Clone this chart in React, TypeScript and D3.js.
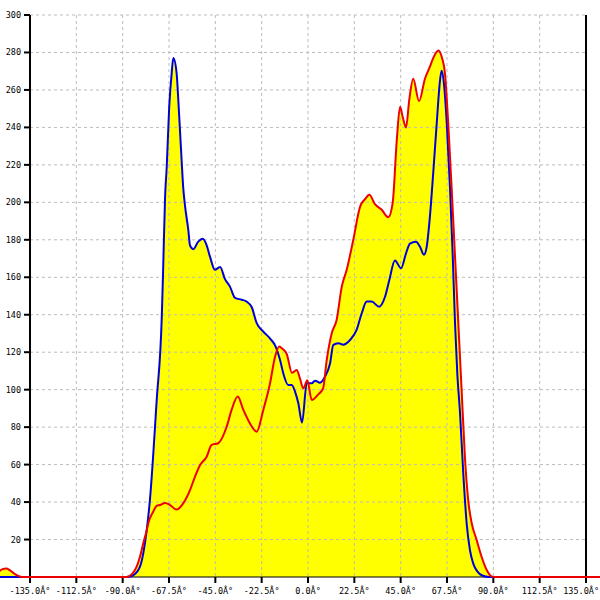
import React from 'react';
import * as d3 from "d3";

// angle (deg) / count pairs, one array each
const blueAngles = [-150, -89.8, -86.4, -85, -81.6, -79.2, -76.7, -73.5, -71.0, -70.3,
	-69.4, -68.6, -67.4, -66.2, -65.4, -63.8, -63.0, -62.2, -61.3, -60.6,
	-59.7, -58.1, -57.3, -55.7, -53.3, -51.1, -49.2, -47.6, -45.2, -42.7,
	-40.3, -37.9, -35.4, -32.2, -29.8, -27.3, -24.9, -21.7, -18.5, -15.7,
	-13.6, -12.0, -9.6, -7.9, -6.3, -4.7, -2.9, -0.6, 1.8, 3.4,
	5.8, 8.3, 10.7, 12.3, 14.7, 17.1, 20.4, 23.6, 26.1, 28.5,
	30.9, 34.5, 37.4, 39.5, 42.2, 45.2, 47.6, 49.5, 52.4, 54.4,
	56.3, 57.6, 59.2, 60.8, 62.5, 64.1, 64.9, 66.0, 67.4, 69.0,
	70.3, 71.4, 72.5, 73.8, 75.4, 77.1, 78.7, 80.3, 82.2, 84.6,
	88, 145];
const blueValues = [0, 0, 0.3, 0.8, 5.5, 18, 42, 94, 139, 166,
	203, 219, 251, 269, 277, 269, 255, 239, 221, 208,
	198, 185, 177, 175, 179, 180.5, 177, 171, 164, 165.5,
	159, 155, 149, 148, 147, 144, 135.5, 131, 127.4, 123,
	116, 108.7, 102.5, 102.5, 99, 92.7, 82.4, 103.4, 103.4, 104.8,
	103.7, 107, 114, 123.9, 124.8, 124, 126.5, 131.9, 140.8, 147,
	147, 144.3, 149.6, 158.6, 169, 164.8, 172.8, 178, 179, 176.3,
	172, 176, 192.4, 215.5, 242, 265, 270.3, 263.6, 242, 206.6,
	171, 135.4, 108.7, 88, 55.4, 28, 14, 7, 3, 0.8,
	0, 0];

const redAngles = [-150, -148.3, -146.6, -144.7, -142.3, -138.9, -88, -85.5, -83.2, -81.6,
	-80, -78.3, -77.6, -75.1, -73.5, -71.9, -69.4, -67, -63.8, -60.6,
	-57.3, -54.9, -52.4, -49.2, -46.8, -43.6, -39.5, -37.1, -34.1, -31.4,
	-28.2, -24.9, -21.7, -18.5, -16.0, -13.9, -12.6, -10.3, -7.8, -5.5,
	-3.9, -2.3, -0.3, 1.8, 5.0, 7.3, 9.1, 11.5, 13.9, 16.4,
	18.8, 22.0, 25.3, 27.7, 29.8, 32.5, 35.8, 39.0, 41.1, 43.1,
	44.7, 46.1, 47.6, 49.2, 51.1, 53.9, 56.8, 59.2, 60.8, 63.3,
	65.1, 66.5, 68.1, 69.8, 71.4, 73.0, 74.6, 76.2, 77.8, 79.5,
	81.9, 84.3, 86.8, 88.9, 90.8, 145];
const redValues = [3, 4.2, 4.5, 3.5, 1.5, 0, 0, 1.5, 5.5, 10.8,
	18, 25, 28.6, 35, 38, 38.4, 39.5, 38.4, 36, 39.3,
	46.4, 53.5, 59.8, 64.2, 70.5, 71.4, 80.2, 89.2, 96.3, 89.2,
	82, 77.6, 89.2, 103, 117.6, 123, 122, 119, 109, 110.5,
	106, 100.7, 105, 94.5, 97.5, 100.5, 115.9, 130, 137.2, 155,
	164, 180, 197.7, 201.7, 204, 199, 196, 192, 199.5, 233,
	251, 245, 240, 255, 266, 254, 266, 272.4, 277, 281,
	277, 269, 242, 206.6, 171, 135.4, 99.8, 64.2, 41, 28.7,
	19.8, 10.8, 3.7, 0.5, 0, 0];

const xTicks = [-135, -112.5, -90, -67.5, -45, -22.5, 0, 22.5, 45, 67.5, 90, 112.5, 135];
const yTicks = [20, 40, 60, 80, 100, 120, 140, 160, 180, 200, 220, 240, 260, 280, 300];

function App() {
	const x = d3.scaleLinear().domain([-135, 135]).range([30, 586]);
	const y = d3.scaleLinear().domain([0, 300]).range([577, 15]);

	const blue = blueAngles.map((a, i) => [a, blueValues[i]]);
	const red = redAngles.map((a, i) => [a, redValues[i]]);

	const line = d3.line()
		.x((d: number[]) => x(d[0]))
		.y((d: number[]) => y(d[1]))
		.curve(d3.curveMonotoneX);
	const area = d3.area()
		.x((d: number[]) => x(d[0]))
		.y0(y(0))
		.y1((d: number[]) => y(d[1]))
		.curve(d3.curveMonotoneX);

	const font = { fontFamily: '"DejaVu Sans Mono", monospace', fontSize: 8.5 };

	return (
		<svg width={600} height={600} style={{ position: 'absolute', left: 0, top: 0, background: '#fff' }}>
			{/* filled areas */}
			<path d={area(blue)} fill="#ffff00" />
			<path d={area(red)} fill="#ffff00" />

			{/* grid */}
			{yTicks.map(t => (
				<line key={'gy' + t} x1={x(-135)} x2={x(135)} y1={y(t)} y2={y(t)}
					stroke="#bbb" strokeDasharray="3,3" />
			))}
			{xTicks.filter(t => t > -135 && t < 135).map(t => (
				<line key={'gx' + t} x1={x(t)} x2={x(t)} y1={y(300)} y2={y(0)}
					stroke="#bbb" strokeDasharray="3,3" />
			))}

			{/* axes */}
			<line x1={0} x2={600} y1={y(0)} y2={y(0)} stroke="#000" />
			<line x1={x(-135)} x2={x(-135)} y1={y(300)} y2={y(0)} stroke="#000" strokeWidth={2} />
			<line x1={x(135)} x2={x(135)} y1={y(300)} y2={y(0)} stroke="#000" strokeWidth={2} />

			{yTicks.map(t => (
				<g key={'ty' + t}>
					<line x1={x(-135) - 6} x2={x(-135)} y1={y(t)} y2={y(t)} stroke="#000" strokeWidth={2} />
					<text x={x(-135) - 9} y={y(t)} dy="0.35em" textAnchor="end" {...font}>{t}</text>
				</g>
			))}
			{xTicks.map((t, i) => {
				// the last label would run past the edge, so pin it to the right side
				const last = i === xTicks.length - 1;
				return (
					<g key={'tx' + t}>
						<line x1={x(t)} x2={x(t)} y1={y(0)} y2={y(0) + 6} stroke="#000" strokeWidth={2} />
						<text x={last ? 599 : x(t)} y={591} dy="0.35em" textAnchor={last ? 'end' : 'middle'} {...font}>
							{t.toFixed(1) + 'Â°'}
						</text>
					</g>
				);
			})}

			{/* lines */}
			<path d={line(blue)} fill="none" stroke="#0000dd" strokeWidth={2} />
			<path d={line(red)} fill="none" stroke="#ee0000" strokeWidth={2} />
		</svg>
	)
}

export default App;
